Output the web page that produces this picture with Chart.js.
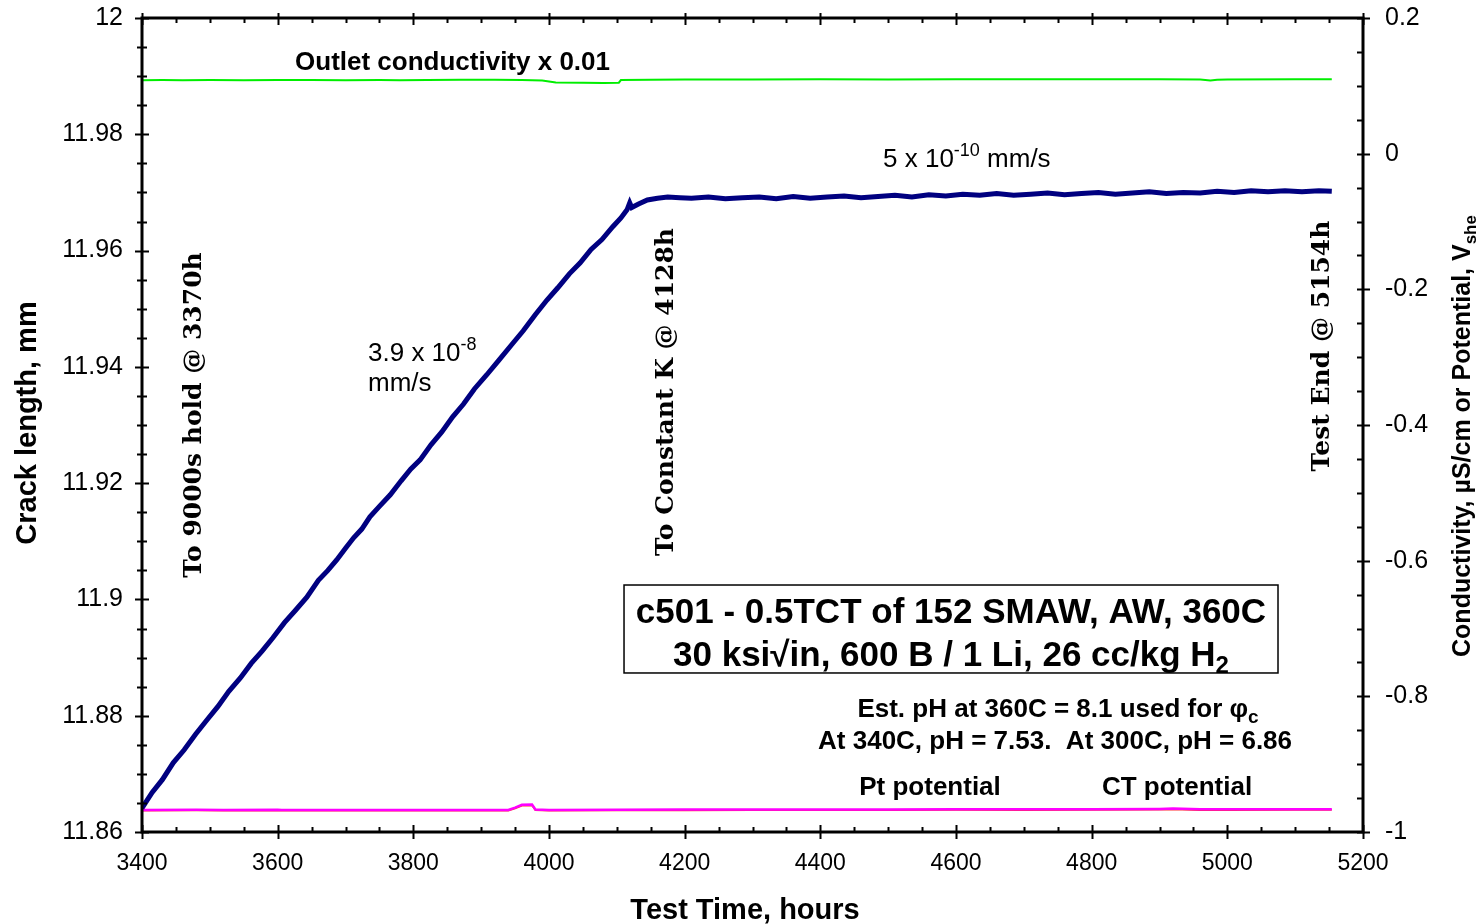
<!DOCTYPE html>
<html>
<head>
<meta charset="utf-8">
<title>c501 - 0.5TCT crack growth</title>
<script src="https://cdn.jsdelivr.net/npm/chart.js@4.4.1/dist/chart.umd.min.js"></script>
<style>
  html, body { margin: 0; padding: 0; background: #fff; }
  #wrap { width: 1482px; height: 924px; }
</style>
</head>
<body>
<div id="wrap"><canvas id="c" width="1482" height="924"></canvas></div>
<script>
// crack length (left axis), mm
const crackTime = [3400, 3415, 3430, 3446, 3462, 3479, 3496, 3512, 3528, 3545, 3561, 3577, 3593, 3610, 3626, 3643,
  3660, 3674, 3687, 3700, 3712, 3724, 3736, 3750, 3766, 3782, 3796, 3810, 3826, 3842, 3858, 3874, 3890, 3908,
  3925, 3947, 3962, 3980, 3997, 4013, 4030, 4046, 4062, 4078, 4094, 4106, 4115, 4119, 4122, 4132, 4145, 4160,
  4175, 4193, 4210, 4235, 4260, 4285, 4310, 4335, 4360, 4385, 4410, 4435, 4460, 4485, 4510, 4535, 4560, 4585,
  4610, 4635, 4660, 4685, 4710, 4735, 4760, 4785, 4810, 4835, 4860, 4885, 4910, 4935, 4960, 4985, 5010, 5035,
  5060, 5085, 5110, 5135, 5154];
const crackLen = [11.8641, 11.8668, 11.8690, 11.8719, 11.8741, 11.8768, 11.8793, 11.8816, 11.8842, 11.8865,
  11.8890, 11.8911, 11.8934, 11.8960, 11.8981, 11.9004, 11.9033, 11.9050, 11.9068, 11.9088, 11.9106, 11.9121,
  11.9142, 11.9160, 11.9180, 11.9204, 11.9224, 11.9240, 11.9266, 11.9288, 11.9314, 11.9336, 11.9362, 11.9386,
  11.9410, 11.9441, 11.9462, 11.9490, 11.9515, 11.9536, 11.9560, 11.9579, 11.9602, 11.9619, 11.9641, 11.9656,
  11.9670, 11.9682, 11.9674, 11.9680, 11.9687, 11.9690, 11.9692, 11.9691, 11.9690, 11.9692, 11.9689, 11.9691,
  11.9692, 11.9689, 11.9693, 11.9690, 11.9692, 11.9694, 11.9691, 11.9693, 11.9695, 11.9692, 11.9696, 11.9694,
  11.9697, 11.9695, 11.9698, 11.9695, 11.9697, 11.9699, 11.9696, 11.9698, 11.9700, 11.9697, 11.9699, 11.9701,
  11.9698, 11.9700, 11.9699, 11.9702, 11.9700, 11.9703, 11.9701, 11.9703, 11.9701, 11.9703, 11.9702];

// outlet conductivity x 0.01 (right axis)
const condTime = [3400, 3430, 3460, 3500, 3550, 3600, 3650, 3700, 3750, 3780, 3820, 3870, 3920, 3960, 3990,
  4010, 4050, 4080, 4103, 4106, 4150, 4200, 4300, 4400, 4500, 4600, 4700, 4800, 4900, 4960, 4975, 4985, 5000,
  5100, 5154];
const condVal = [0.1083, 0.1085, 0.1081, 0.1086, 0.1084, 0.1085, 0.1086, 0.1084, 0.1086, 0.1081, 0.1086, 0.1088,
  0.1088, 0.1087, 0.1080, 0.1048, 0.1046, 0.1042, 0.1046, 0.1085, 0.1090, 0.1093, 0.1095, 0.1097, 0.1095, 0.1096,
  0.1097, 0.1096, 0.1096, 0.1095, 0.1080, 0.1090, 0.1095, 0.1096, 0.1096];

// Pt and CT potentials, V(she) (right axis)
const potTime = [3400, 3480, 3520, 3600, 3606, 3700, 3800, 3900, 3940, 3950, 3960, 3975, 3980, 4000, 4100, 4200,
  4300, 4400, 4500, 4600, 4700, 4800, 4900, 4920, 4960, 5000, 5100, 5154];
const ptVal = [-0.9676, -0.9672, -0.9676, -0.9672, -0.9676, -0.9676, -0.9674, -0.9674, -0.9674, -0.9640, -0.9600,
  -0.9595, -0.9668, -0.9674, -0.9672, -0.9670, -0.9670, -0.9668, -0.9668, -0.9666, -0.9666, -0.9664, -0.9660,
  -0.9655, -0.9664, -0.9666, -0.9664, -0.9664];
const ctVal = [-0.9684, -0.9680, -0.9684, -0.9681, -0.9684, -0.9683, -0.9682, -0.9682, -0.9682, -0.9650, -0.9610,
  -0.9605, -0.9676, -0.9682, -0.9680, -0.9678, -0.9677, -0.9676, -0.9675, -0.9673, -0.9674, -0.9672, -0.9669,
  -0.9665, -0.9675, -0.9674, -0.9672, -0.9672];

const xTicks = [3400, 3600, 3800, 4000, 4200, 4400, 4600, 4800, 5000, 5200];
const yTicks = [11.86, 11.88, 11.9, 11.92, 11.94, 11.96, 11.98, 12];
const y2Ticks = [-1, -0.8, -0.6, -0.4, -0.2, 0, 0.2];

const SANS = '"Liberation Sans", Arial, sans-serif';
const SERIF = '"DejaVu Serif", serif';

const pts = (xs, ys) => xs.map((x, i) => ({ x: x, y: ys[i] }));
const setTicks = arr => scale => { scale.ticks = arr.map(v => ({ value: v })); };
// fixed axis band, no extra room for overhanging labels
const band = (w, h) => s => {
  if (w) s.width = w;
  if (h) s.height = h;
  s.paddingTop = 0; s.paddingBottom = 0; s.paddingLeft = 0; s.paddingRight = 0;
};

// draw a run of text pieces (super/subscripts) starting from one baseline
function rich(ctx, segs, x, y, align) {
  let w = 0;
  segs.forEach(s => { ctx.font = s.f; s.w = ctx.measureText(s.t).width; w += s.w; });
  let cx = align === 'center' ? x - w / 2 : align === 'right' ? x - w : x;
  ctx.textAlign = 'left';
  ctx.textBaseline = 'alphabetic';
  segs.forEach(s => { ctx.font = s.f; ctx.fillText(s.t, cx, y + (s.dy || 0)); cx += s.w; });
}

// axis frame with major/minor tick marks on all four sides
const frame = {
  id: 'frame',
  afterDatasetsDraw(chart) {
    const { ctx, chartArea: a, scales } = chart;
    const steps = (scale, step) => {
      const n = Math.round((scale.max - scale.min) / step);
      const out = [];
      for (let i = 0; i <= n; i++) out.push(scale.min + i * step);
      return out;
    };
    ctx.save();
    ctx.strokeStyle = '#000';
    ctx.lineWidth = 2;
    ctx.beginPath();
    steps(scales.x, 50).forEach((v, i) => {
      const px = Math.round(scales.x.getPixelForValue(v)) + 0.5;
      const major = i % 4 === 0;
      ctx.moveTo(px, a.bottom + (major ? 7 : 0)); ctx.lineTo(px, a.bottom - (major ? 7 : 5));
      ctx.moveTo(px, a.top - (major ? 5 : 0)); ctx.lineTo(px, a.top + (major ? 7 : 5));
    });
    steps(scales.y, 0.005).forEach((v, i) => {
      const py = Math.round(scales.y.getPixelForValue(v)) + 0.5;
      const major = i % 4 === 0;
      ctx.moveTo(a.left - (major ? 7 : 5), py); ctx.lineTo(a.left + (major ? 7 : 5), py);
    });
    steps(scales.y2, 0.05).forEach((v, i) => {
      const py = Math.round(scales.y2.getPixelForValue(v)) + 0.5;
      const major = i % 4 === 0;
      ctx.moveTo(a.right - 6, py); ctx.lineTo(a.right + (major ? 7 : 0), py);
    });
    ctx.stroke();
    ctx.lineWidth = 3;
    ctx.strokeRect(a.left, a.top, a.right - a.left, a.bottom - a.top);
    ctx.restore();
  }
};

// notes, box and axis titles
const notes = {
  id: 'notes',
  afterDraw(chart) {
    const { ctx, scales } = chart;
    const X = t => scales.x.getPixelForValue(t);
    const Y = v => scales.y.getPixelForValue(v);
    const b = s => 'bold ' + s + 'px ' + SANS;
    const n = s => s + 'px ' + SANS;
    ctx.save();
    ctx.fillStyle = '#000';

    rich(ctx, [{ t: 'Outlet conductivity x 0.01', f: b(26) }], X(3625.6), Y(11.9911), 'left');
    rich(ctx, [{ t: '5 x 10', f: n(26) }, { t: '-10', f: n(18), dy: -11 }, { t: ' mm/s', f: n(26) }],
      X(4492.4), Y(11.97437), 'left');
    rich(ctx, [{ t: '3.9 x 10', f: n(26) }, { t: '-8', f: n(18), dy: -11 }], X(3733.2), Y(11.94101), 'left');
    rich(ctx, [{ t: 'mm/s', f: n(26) }], X(3733.2), Y(11.93585), 'left');

    // vertical event labels
    [['To 9000s hold @ 3370h', 3478.1, 11.93172],
     ['To Constant K @ 4128h', 4172.5, 11.93568],
     ['Test End @ 5154h', 5139.6, 11.94359]].forEach(([txt, t, v]) => {
      ctx.save();
      ctx.translate(X(t), Y(v));
      ctx.rotate(-Math.PI / 2);
      ctx.font = 'bold 25px ' + SERIF;
      ctx.textAlign = 'center';
      ctx.textBaseline = 'middle';
      ctx.fillText(txt, 0, 0);
      ctx.restore();
    });

    // specimen box
    ctx.lineWidth = 1.5;
    ctx.strokeStyle = '#000';
    const bx0 = X(4110.6), bx1 = X(5074.7), by0 = Y(11.90248), by1 = Y(11.88735);
    ctx.fillStyle = '#fff';
    ctx.fillRect(bx0, by0, bx1 - bx0, by1 - by0);
    ctx.strokeRect(bx0, by0, bx1 - bx0, by1 - by0);
    ctx.fillStyle = '#000';
    rich(ctx, [{ t: 'c501 - 0.5TCT of 152 SMAW, AW, 360C', f: b(35) }], X(4592.6), Y(11.89595), 'center');
    rich(ctx, [{ t: '30 ksi\u221Ain, 600 B / 1 Li, 26 cc/kg H', f: b(35) }, { t: '2', f: b(24), dy: 7 }],
      X(4592.6), Y(11.88855), 'center');

    rich(ctx, [{ t: 'Est. pH at 360C = 8.1 used for \u03C6', f: b(26) }, { t: 'c', f: b(19), dy: 6 }],
      X(4750.4), Y(11.87978), 'center');
    rich(ctx, [{ t: 'At 340C, pH = 7.53.  At 300C, pH = 6.86', f: b(26) }], X(4746.0), Y(11.87428), 'center');
    rich(ctx, [{ t: 'Pt potential', f: b(26) }], X(4561.7), Y(11.86636), 'center');
    rich(ctx, [{ t: 'CT potential', f: b(26) }], X(4925.8), Y(11.86636), 'center');

    // axis titles
    rich(ctx, [{ t: 'Test Time, hours', f: b(29) }], 745, 919, 'center');
    ctx.save();
    ctx.translate(36, 423);
    ctx.rotate(-Math.PI / 2);
    rich(ctx, [{ t: 'Crack length, mm', f: b(29) }], 0, 0, 'center');
    ctx.restore();
    ctx.save();
    ctx.translate(1470, 436);
    ctx.rotate(-Math.PI / 2);
    rich(ctx, [{ t: 'Conductivity, \u00B5S/cm or Potential, V', f: b(25) }, { t: 'she', f: b(17), dy: 6 }], 0, 0, 'center');
    ctx.restore();
    ctx.restore();
  }
};

const tickFont = { family: SANS, size: 23 };
const sideFont = { family: SANS, size: 25 };

new Chart(document.getElementById('c'), {
  type: 'line',
  data: {
    datasets: [
      { label: 'Crack length', data: pts(crackTime, crackLen), yAxisID: 'y',
        borderColor: '#000080', borderWidth: 5, pointRadius: 0 },
      { label: 'Outlet conductivity x 0.01', data: pts(condTime, condVal), yAxisID: 'y2',
        borderColor: '#00ee00', borderWidth: 2, pointRadius: 0 },
      { label: 'Pt potential', data: pts(potTime, ptVal), yAxisID: 'y2',
        borderColor: '#ff00ff', borderWidth: 2.5, pointRadius: 0 },
      { label: 'CT potential', data: pts(potTime, ctVal), yAxisID: 'y2',
        borderColor: '#ff3030', borderWidth: 2, pointRadius: 0 }
    ]
  },
  options: {
    responsive: false,
    devicePixelRatio: 1,
    animation: false,
    layout: { padding: { top: 18, left: 0, right: 0, bottom: 0 } },
    plugins: { legend: { display: false }, tooltip: { enabled: false } },
    scales: {
      x: {
        type: 'linear', position: 'bottom', min: 3400, max: 5200,
        afterBuildTicks: setTicks(xTicks),
        afterFit: band(0, 92),
        grid: { display: false }, border: { display: false },
        ticks: { color: '#000', font: tickFont, padding: 10, maxRotation: 0, autoSkip: false,
          callback: v => String(v) }
      },
      y: {
        type: 'linear', position: 'left', min: 11.86, max: 12,
        afterBuildTicks: setTicks(yTicks),
        afterFit: band(142, 0),
        grid: { display: false }, border: { display: false },
        ticks: { color: '#000', font: sideFont, padding: 11, autoSkip: false,
          callback: v => String(+v.toFixed(2)) }
      },
      y2: {
        type: 'linear', position: 'right', min: -1, max: 0.2,
        afterBuildTicks: setTicks(y2Ticks),
        afterFit: band(119, 0),
        grid: { display: false }, border: { display: false },
        ticks: { color: '#000', font: sideFont, padding: 14, autoSkip: false,
          callback: v => String(+v.toFixed(1)) }
      }
    }
  },
  plugins: [frame, notes]
});
</script>
</body>
</html>
